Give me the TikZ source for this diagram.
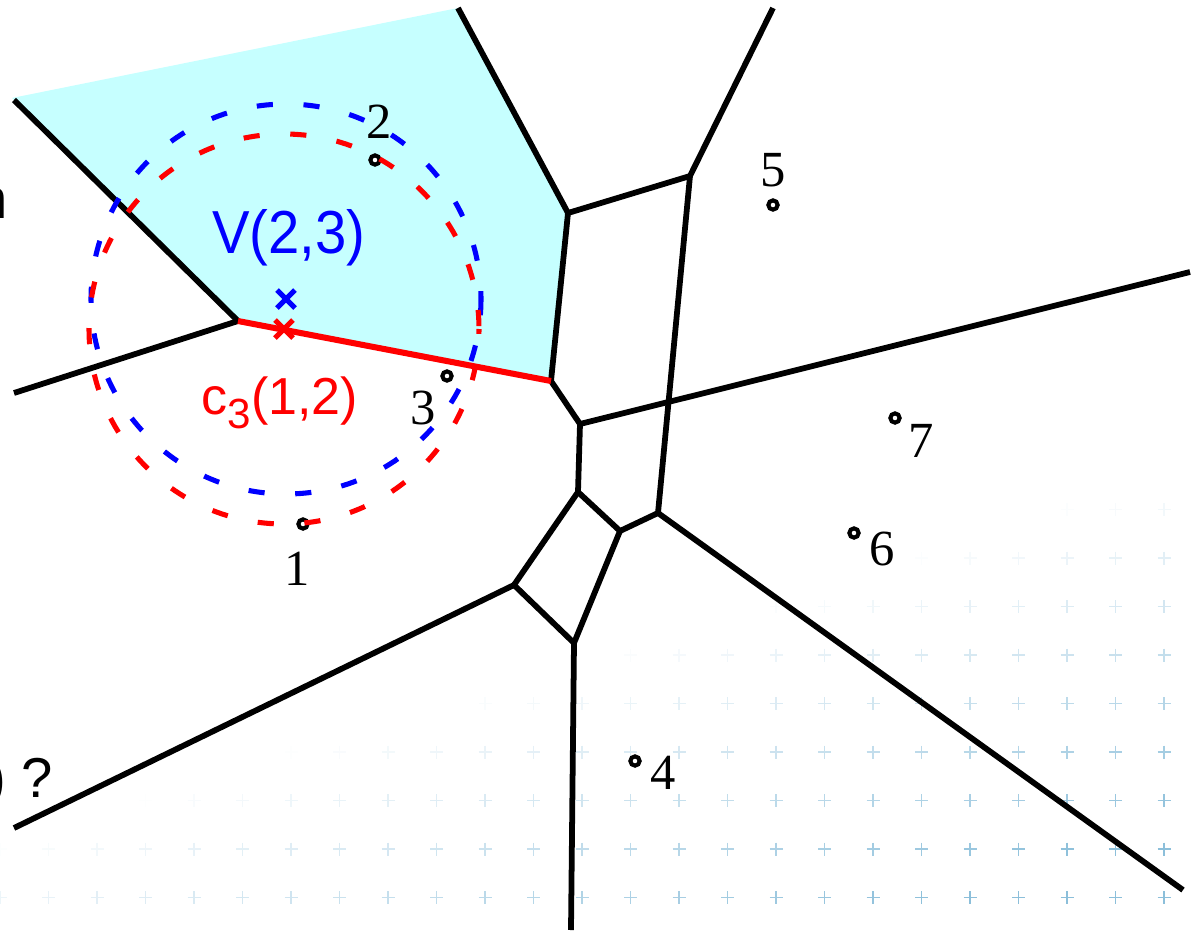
\documentclass[tikz,border=0pt]{standalone}
\usepackage{fontspec}
\setmainfont{Liberation Serif}
\setsansfont{Liberation Sans}
\definecolor{cellcyan}{RGB}{198,255,255}
\definecolor{plusblue}{RGB}{120,180,212}
\begin{document}
\begin{tikzpicture}[x=0.025cm,y=-0.025cm,
  edge/.style={line width=4.1pt, line join=round},
  redge/.style={red, line width=4.3pt, line join=round},
  circ/.style={line width=3.6pt, dash pattern=on 11.5pt off 21.8pt},
  site/.style={circle, draw=black, fill=white, line width=2.9pt, minimum size=6.6pt, inner sep=0pt},
  sitelabel/.style={font=\fontsize{36}{38}\selectfont, inner sep=0pt},
  bigtext/.style={font=\sffamily\fontsize{40}{44}\selectfont, inner sep=0pt},
  crossmark/.style={line width=3.6pt}]
\useasboundingbox (0,0) rectangle (1193,934);
\clip (0,0) rectangle (1193,934);

% faint background crosses
\foreach \i in {-2,...,23}{
  \foreach \j in {-4,...,5}{
    \pgfmathsetmacro\px{97+48.5*\i}
    \pgfmathsetmacro\py{655+48.5*\j}
    \pgfmathsetmacro\al{max(0,min(1,(0.32*\px+\py-840)/360))*0.85}
    \ifdim\al pt>0.01pt
      \draw[plusblue, opacity=\al, line width=1.1pt] (\px-6.5,\py) -- (\px+6.5,\py) (\px,\py-6.5) -- (\px,\py+6.5);
    \fi
  }
}

% Voronoi vertices
\coordinate (a) at (14,100);
\coordinate (b) at (238,321);
\coordinate (c) at (14,393);
\coordinate (d) at (551,381);
\coordinate (e) at (568,213);
\coordinate (f) at (458,8);
\coordinate (g) at (690,176);
\coordinate (h) at (773,8);
\coordinate (i) at (580,424);
\coordinate (j) at (1190,272);
\coordinate (k) at (658,513);
\coordinate (l) at (578,492);
\coordinate (m) at (620,531);
\coordinate (n) at (514,585);
\coordinate (o) at (14,828);
\coordinate (p) at (574,643);
\coordinate (q) at (571,930);
\coordinate (r) at (1183,890);
\coordinate (tl) at (12,98);

% highlighted cell
\fill[cellcyan] (tl) -- (f) -- (e) -- (d) -- (b) -- cycle;

% edges
\draw[edge] (a) -- (b);
\draw[edge] (b) -- (c);
\draw[edge] (f) -- (e);
\draw[edge] (e) -- (g);
\draw[edge] (g) -- (h);
\draw[edge] (e) -- (d);
\draw[edge] (d) -- (i);
\draw[edge] (i) -- (j);
\draw[edge] (g) -- (k);
\draw[edge] (i) -- (l);
\draw[edge] (l) -- (m);
\draw[edge] (m) -- (k);
\draw[edge] (k) -- (r);
\draw[edge] (l) -- (n);
\draw[edge] (n) -- (o);
\draw[edge] (n) -- (p);
\draw[edge] (m) -- (p);
\draw[edge] (p) -- (q);
\draw[redge] (b) -- (d);

% sites
\node[site] (s1) at (303,524) {};
\node[site] (s2) at (375,160) {};
\node[site] (s3) at (447,376) {};
\node[site] (s4) at (635,761) {};
\node[site] (s5) at (773,205) {};
\node[site] (s6) at (854,533) {};
\node[site] (s7) at (895,418) {};

\node[sitelabel] (l1) at (297,569) {1};
\node[sitelabel] (l2) at (379,122) {2};
\node[sitelabel] (l3) at (423,408) {3};
\node[sitelabel] (l4) at (663,773) {4};
\node[sitelabel] (l5) at (773,170) {5};
\node[sitelabel] (l6) at (882,549) {6};
\node[sitelabel] (l7) at (921,441) {7};

% texts
\node[bigtext, text=blue, anchor=base, yscale=1.08] (vlab) at (289,253) {V(2,3)};
\node[bigtext, text=red, anchor=base, font=\sffamily\fontsize{37}{40}\selectfont] (clab) at (280,414) {c\raisebox{-0.28em}{\fontsize{30}{30}\selectfont 3}(1,2)};
\node[bigtext, anchor=base east] (ntxt) at (8,218) {n};
\node[bigtext, anchor=base east] (qtxt) at (53,797) {) ?};

% circles
\coordinate (cb) at (286,299);
\coordinate (cr) at (284,329);
\draw[blue, circ] (cb) circle[radius=195];
\draw[red, circ, dash phase=8pt] (cr) circle[radius=195];

% crosses
\draw[blue, crossmark] (cb) +(-9,-9) -- +(9,9) +(-9,9) -- +(9,-9);
\draw[red, crossmark] (cr) +(-9,-9) -- +(9,9) +(-9,9) -- +(9,-9);
\end{tikzpicture}
\end{document}
